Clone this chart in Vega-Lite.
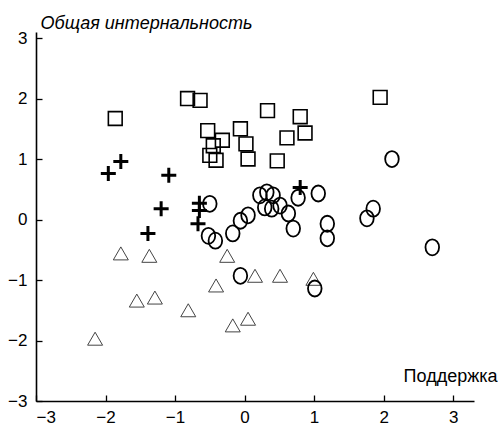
{
  "$schema": "https://vega.github.io/schema/vega-lite/v6.json",
  "autosize": {"type": "none"},
  "width": 438,
  "height": 369,
  "padding": {"left": 36, "top": 32, "right": 24, "bottom": 30},
  "config": {
    "view": {"stroke": null},
    "font": "Liberation Sans",
    "axis": {
      "grid": false,
      "domainColor": "#000",
      "domainWidth": 1.6,
      "tickColor": "#000",
      "tickWidth": 1.3,
      "tickSize": -6,
      "labelFont": "Liberation Sans",
      "labelFontSize": 17,
      "labelColor": "#000",
      "titleFont": "Liberation Sans",
      "titleFontSize": 18,
      "titleFontWeight": "normal",
      "titleColor": "#000"
    }
  },
  "data": {
    "values": [
      {"group": "square", "x": -1.86, "y": 1.67},
      {"group": "square", "x": -0.82, "y": 2.0},
      {"group": "square", "x": -0.64, "y": 1.97},
      {"group": "square", "x": -0.53, "y": 1.47},
      {"group": "square", "x": -0.45, "y": 1.22},
      {"group": "square", "x": -0.5, "y": 1.06},
      {"group": "square", "x": -0.41, "y": 0.98},
      {"group": "square", "x": -0.32, "y": 1.31},
      {"group": "square", "x": -0.06, "y": 1.5},
      {"group": "square", "x": 0.02, "y": 1.25},
      {"group": "square", "x": 0.05, "y": 1.0},
      {"group": "square", "x": 0.47, "y": 0.97},
      {"group": "square", "x": 0.61, "y": 1.35},
      {"group": "square", "x": 0.87, "y": 1.43},
      {"group": "square", "x": 0.33, "y": 1.8},
      {"group": "square", "x": 0.8, "y": 1.7},
      {"group": "square", "x": 1.95, "y": 2.02},
      {"group": "plus", "x": -1.96, "y": 0.76},
      {"group": "plus", "x": -1.78, "y": 0.96},
      {"group": "plus", "x": -1.09, "y": 0.73},
      {"group": "plus", "x": -1.2, "y": 0.18},
      {"group": "plus", "x": -1.39, "y": -0.23},
      {"group": "plus", "x": -0.65, "y": 0.27},
      {"group": "plus", "x": -0.65, "y": 0.15},
      {"group": "plus", "x": -0.67, "y": -0.07},
      {"group": "plus", "x": 0.8, "y": 0.53},
      {"group": "circle", "x": -0.5, "y": 0.26},
      {"group": "circle", "x": -0.52, "y": -0.27},
      {"group": "circle", "x": -0.42, "y": -0.35},
      {"group": "circle", "x": -0.17, "y": -0.23},
      {"group": "circle", "x": -0.06, "y": -0.02},
      {"group": "circle", "x": 0.05, "y": 0.07},
      {"group": "circle", "x": 0.22, "y": 0.4},
      {"group": "circle", "x": 0.32, "y": 0.45},
      {"group": "circle", "x": 0.41, "y": 0.4},
      {"group": "circle", "x": 0.29, "y": 0.2},
      {"group": "circle", "x": 0.39, "y": 0.18},
      {"group": "circle", "x": 0.51, "y": 0.23},
      {"group": "circle", "x": 0.63, "y": 0.1},
      {"group": "circle", "x": 0.7, "y": -0.15},
      {"group": "circle", "x": 0.77, "y": 0.36},
      {"group": "circle", "x": 1.06, "y": 0.43},
      {"group": "circle", "x": 1.19, "y": -0.07},
      {"group": "circle", "x": 1.19, "y": -0.31},
      {"group": "circle", "x": 2.12, "y": 1.0},
      {"group": "circle", "x": 1.85, "y": 0.18},
      {"group": "circle", "x": 1.76, "y": 0.02},
      {"group": "circle", "x": 2.7, "y": -0.46},
      {"group": "circle", "x": -0.06, "y": -0.93},
      {"group": "circle", "x": 1.01, "y": -1.14},
      {"group": "triangle", "x": -1.78, "y": -0.56},
      {"group": "triangle", "x": -1.37, "y": -0.6},
      {"group": "triangle", "x": -1.55, "y": -1.34},
      {"group": "triangle", "x": -1.29, "y": -1.29},
      {"group": "triangle", "x": -0.81, "y": -1.5},
      {"group": "triangle", "x": -0.41, "y": -1.09},
      {"group": "triangle", "x": -2.15, "y": -1.97},
      {"group": "triangle", "x": -0.25, "y": -0.6},
      {"group": "triangle", "x": 0.15, "y": -0.93},
      {"group": "triangle", "x": 0.51, "y": -0.93},
      {"group": "triangle", "x": 0.99, "y": -0.98},
      {"group": "triangle", "x": -0.17, "y": -1.75},
      {"group": "triangle", "x": 0.05, "y": -1.64}
    ]
  },
  "encoding": {
    "x": {
      "field": "x", "type": "quantitative",
      "scale": {"domain": [-3, 3.3], "nice": false, "zero": false},
      "axis": {
        "values": [-3, -2, -1, 0, 1, 2, 3],
        "title": "Поддержка",
        "labelPadding": 14,
        "titleAngle": 0,
        "titleAnchor": null,
        "titleAlign": "right",
        "titleBaseline": "alphabetic",
        "titleX": 461,
        "titleY": -20
      }
    },
    "y": {
      "field": "y", "type": "quantitative",
      "scale": {"domain": [-3, 3.1], "nice": false, "zero": false},
      "axis": {
        "values": [-3, -2, -1, 0, 1, 2, 3],
        "title": "Общая интернальность",
        "titleFontStyle": "italic",
        "labelPadding": 15,
        "titleAngle": 0,
        "titleAnchor": null,
        "titleAlign": "left",
        "titleBaseline": "alphabetic",
        "titleX": 4,
        "titleY": -4
      }
    }
  },
  "layer": [
    {
      "transform": [{"filter": "datum.group === 'triangle'"}],
      "mark": {"type": "point", "shape": "triangle-up", "filled": false, "size": 225, "stroke": "#444", "strokeWidth": 1, "opacity": 1}
    },
    {
      "transform": [{"filter": "datum.group === 'square'"}],
      "mark": {"type": "point", "shape": "square", "filled": false, "size": 190, "stroke": "#000", "strokeWidth": 1.6, "opacity": 1}
    },
    {
      "transform": [{"filter": "datum.group === 'circle'"}],
      "mark": {"type": "point", "shape": "M0,-1A0.85,1 0 1,1 0,1A0.85,1 0 1,1 0,-1Z", "filled": false, "size": 256, "stroke": "#000", "strokeWidth": 1.8, "opacity": 1}
    },
    {
      "transform": [{"filter": "datum.group === 'plus'"}],
      "mark": {"type": "point", "shape": "M-1,0H1M0,-1V1", "filled": false, "size": 225, "stroke": "#000", "strokeWidth": 3, "opacity": 1}
    }
  ]
}
